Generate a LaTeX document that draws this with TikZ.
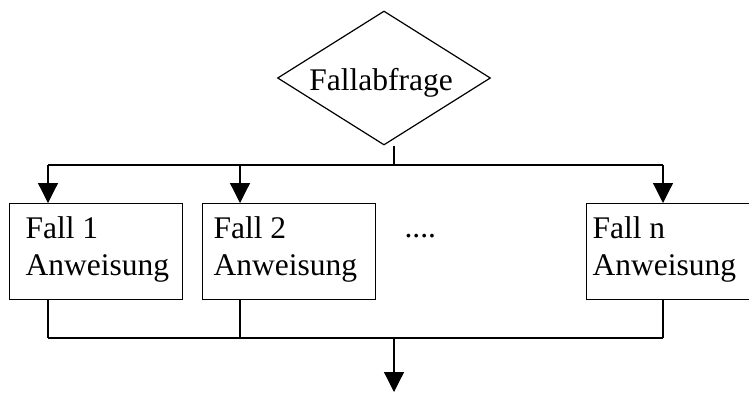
\documentclass[tikz,border=0pt]{standalone}
\usepackage{fontspec}
\setmainfont{Liberation Serif}
\usetikzlibrary{arrows.meta,shapes.geometric}
\begin{document}
\begin{tikzpicture}[x=1pt,y=-1pt,line width=1.2pt,
  box/.style={draw,rectangle,minimum width=173pt,minimum height=96pt,inner sep=0pt,anchor=north west},
  txt/.style={font=\fontsize{31.5}{37}\selectfont,align=left,inner sep=0pt,anchor=north west},
  arr/.style={-{Triangle[length=20pt,width=20pt]}}]
\useasboundingbox (0,0) rectangle (749,392);
% decision
\node[draw,diamond,minimum width=213pt,minimum height=134pt,inner sep=0pt] (d) at (384,78) {};
\node[font=\fontsize{31.5}{37}\selectfont,anchor=base,inner sep=0pt] (dt) at (381,90) {Fallabfrage};
% boxes
\node[box] (b1) at (9,203) {};
\node[box] (b2) at (202,203) {};
\node[box,minimum width=180pt] (bn) at (586,203) {};
\node[txt] (t1) at (25,216.5) {Fall 1\\Anweisung};
\node[txt] (t2) at (213,216.5) {Fall 2\\Anweisung};
\node[txt] (tn) at (592,216.5) {Fall n\\Anweisung};
\node[font=\fontsize{31.5}{37}\selectfont,anchor=base west,inner sep=0pt] (dots) at (404,237) {....};
% top distribution
\coordinate (s0) at (394,146);
\coordinate (s1) at (394,165);
\coordinate (l1) at (48,165);
\coordinate (l2) at (240,165);
\coordinate (ln) at (663,165);
\draw (s0) -- (s1);
\draw (l1) -- (ln);
\draw[arr] (l1) -- (l1 |- b1.north);
\draw[arr] (l2) -- (l2 |- b2.north);
\draw[arr] (ln) -- (ln |- bn.north);
% bottom collection
\coordinate (m1) at (48,338);
\coordinate (m2) at (240,338);
\coordinate (mn) at (663,338);
\coordinate (mo) at (394,338);
\coordinate (fin) at (394,392);
\draw (m1 |- b1.south) -- (m1);
\draw (m2 |- b2.south) -- (m2);
\draw (mn |- bn.south) -- (mn);
\draw (m1) -- (mn);
\draw[arr] (mo) -- (fin);
\end{tikzpicture}
\end{document}
